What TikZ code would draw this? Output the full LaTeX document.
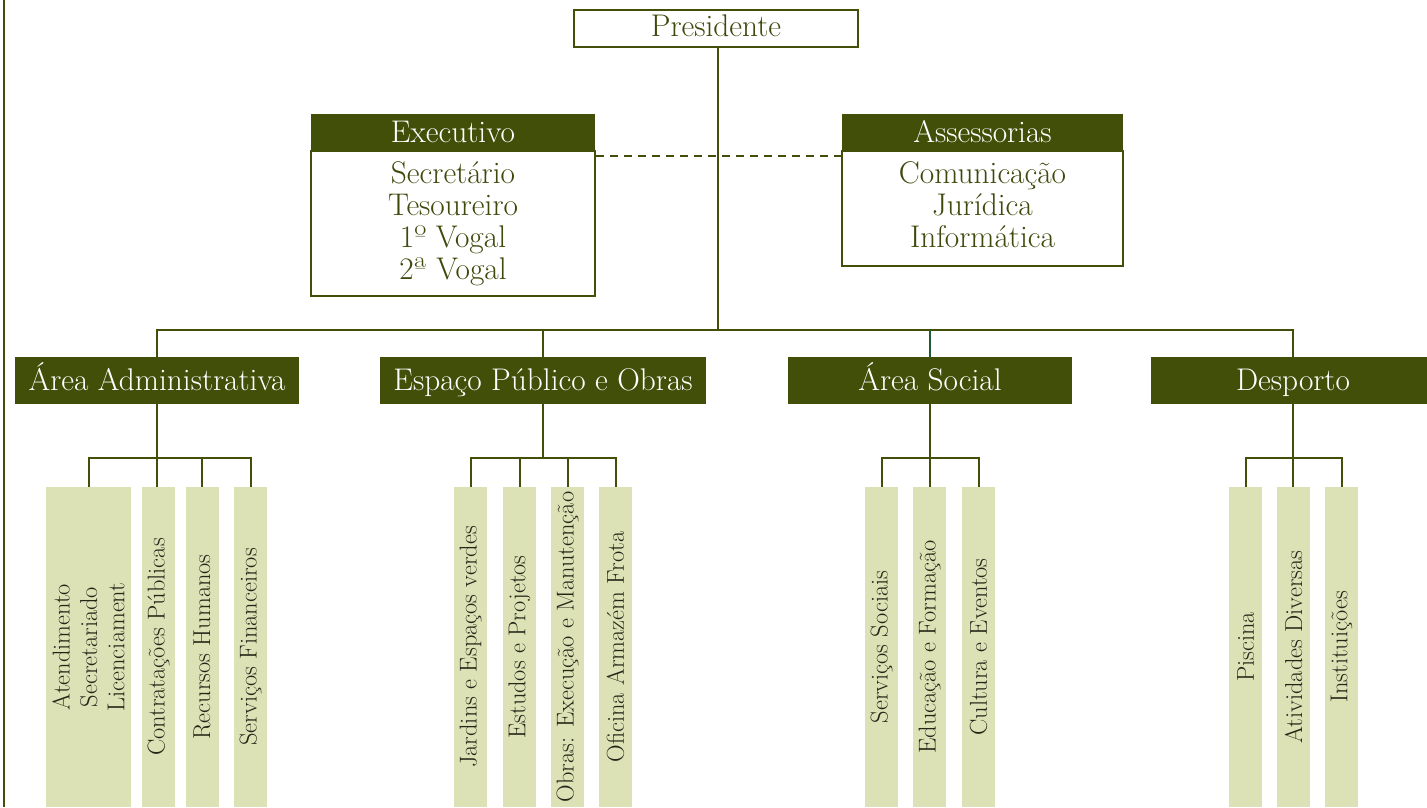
\documentclass[tikz,border=0pt]{standalone}
\usepackage{fontspec}
\usepackage{tikz}

\definecolor{orgolive}{RGB}{66,79,9}
\definecolor{orgtext}{RGB}{62,74,12}
\definecolor{orglight}{RGB}{221,226,182}
\definecolor{orgteal}{RGB}{30,90,50}
\definecolor{orgdark}{RGB}{38,38,24}

\tikzset{
  topbox/.style={draw=orgolive, line width=1.5pt, fill=white, text=orgtext,
    font=\fontsize{23.5}{24}\selectfont, align=center, inner sep=0pt},
  headbox/.style={fill=orgolive, text=white, font=\fontsize{23.5}{24}\selectfont,
    minimum height=27.75pt, inner sep=0pt, text height=20pt, text depth=5pt},
  areabox/.style={fill=orgolive, text=white, font=\fontsize{23.5}{24}\selectfont,
    minimum width=213pt, minimum height=35.25pt, inner sep=0pt,
    text height=20pt, text depth=5pt},
  colbox/.style={fill=orglight, text=orgdark, rotate=90, align=center,
    font=\fontsize{18.3}{20.6}\selectfont, minimum width=240pt,
    minimum height=24.75pt, inner sep=0pt},
  link/.style={draw=orgolive, line width=1.5pt},
}

\begin{document}
\begin{tikzpicture}[x=0.75pt,y=0.75pt,yscale=-1,xscale=1]
\useasboundingbox (0,0) rectangle (1427,807);

%page frame
\draw[orgolive, line width=1.1pt] (4,0) -- (4,807);

%top
\node[topbox, minimum width=213pt, minimum height=27.75pt,
  text height=18pt, text depth=6pt] (pres) at (716,28.5) {Presidente};

\node[headbox, minimum width=213pt] (exech) at (453,132.5) {Executivo};
\node[topbox, minimum width=213pt, minimum height=108.75pt] (execb) at (453,223.5)
  {Secretário\\Tesoureiro\\1º Vogal\\2ª Vogal};

\node[headbox, minimum width=210.75pt] (assh) at (982.5,132.5) {Assessorias};
\node[topbox, minimum width=210.75pt, minimum height=86.25pt] (assb) at (982.5,208.5)
  {Comunicação\\Jurídica\\Informática\\[-18pt]\mbox{}};

%areas
\node[areabox] (admin) at (157,380.5) {Área Administrativa};
\node[areabox, minimum width=244.5pt] (espaco) at (543,380.5) {Espaço Público e Obras};
\node[areabox] (social) at (930,380.5) {Área Social};
\node[areabox] (desporto) at (1293,380.5) {Desporto};

%columns
\node[colbox, minimum height=63.75pt] (aten) at (88.5,647) {Atendimento\\Secretariado\\Licenciament};
\node[colbox] (contr) at (158.5,647) {Contratações Públicas};
\node[colbox] (recur) at (202,647) {Recursos Humanos};
\node[colbox] (servf) at (250.5,647) {Serviços Financeiros};

\node[colbox] (jard) at (470.5,647) {Jardins e Espaços verdes};
\node[colbox] (estud) at (519.5,647) {Estudos e Projetos};
\node[colbox] (obras) at (567.5,647) {Obras: Execução e Manutenção};
\node[colbox] (ofic) at (615.5,647) {Oficina Armazém Frota};

\node[colbox] (servs) at (881.5,647) {Serviços Sociais};
\node[colbox] (educ) at (929.5,647) {Educação e Formação};
\node[colbox] (cult) at (978.5,647) {Cultura e Eventos};

\node[colbox] (pisc) at (1245.5,647) {Piscina};
\node[colbox] (ativ) at (1293.5,647) {Atividades Diversas};
\node[colbox] (inst) at (1341.5,647) {Instituições};

%links
\coordinate (bus) at (718,330);
\coordinate (dash) at (718,156);
\draw[link] (bus |- pres.south) -- (bus);
\draw[link, dash pattern=on 6pt off 4.5pt] (execb.east |- dash) -- (assb.west |- dash);
\draw[link] (admin.north) |- (bus) -| (desporto.north);
\draw[link] (espaco.north) -- (espaco.north |- bus);
\draw[link, draw=orgteal] (social.north) -- (social.north |- bus);

\draw[link] (aten.east) -- ++(0,-29) -| (servf.east);
\draw[link] (admin.south) -- (admin.south |- contr.east);
\draw[link] (recur.east) -- ++(0,-29);

\draw[link] (jard.east) -- ++(0,-29) -| (ofic.east);
\draw[link] (espaco.south) -- ++(0,54);
\draw[link] (estud.east) -- ++(0,-29);
\draw[link] (obras.east) -- ++(0,-29);

\draw[link] (servs.east) -- ++(0,-29) -| (cult.east);
\draw[link] (social.south) -- (social.south |- educ.east);

\draw[link] (pisc.east) -- ++(0,-29) -| (inst.east);
\draw[link] (desporto.south) -- (desporto.south |- ativ.east);

\end{tikzpicture}
\end{document}
